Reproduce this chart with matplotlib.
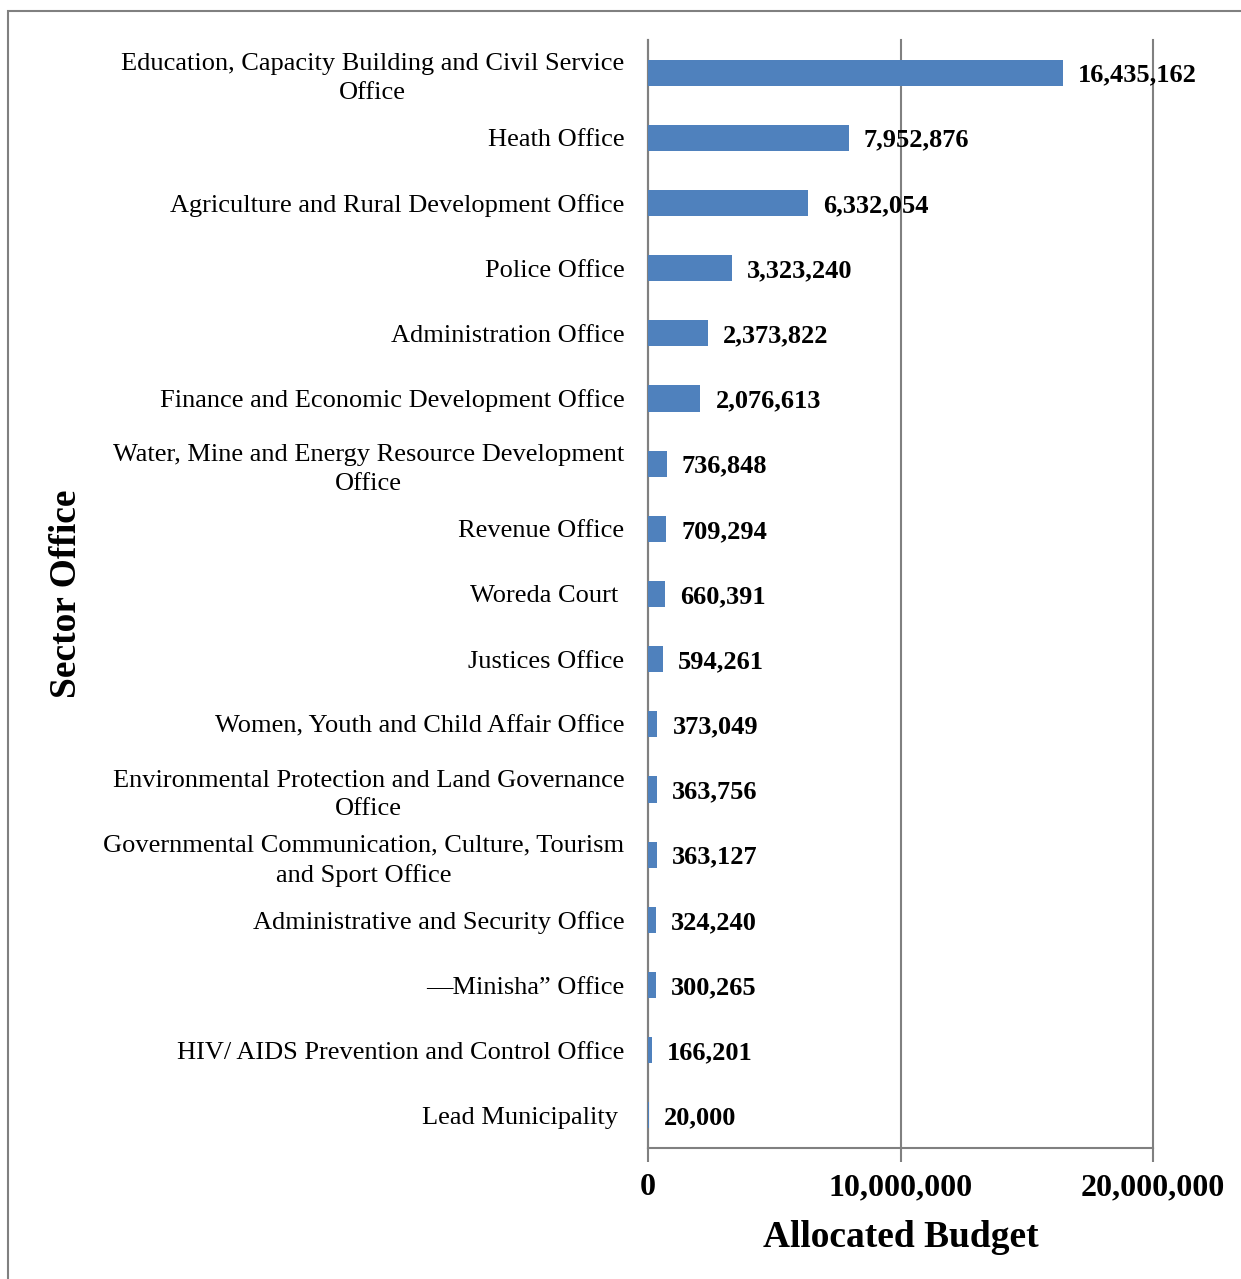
import matplotlib.pyplot as plt
from matplotlib.patches import Rectangle

offices = [
    'Education, Capacity Building and Civil Service\nOffice',
    'Heath Office',
    'Agriculture and Rural Development Office',
    'Police Office',
    'Administration Office',
    'Finance and Economic Development Office',
    'Water, Mine and Energy Resource Development\nOffice',
    'Revenue Office',
    'Woreda Court ',
    'Justices Office',
    'Women, Youth and Child Affair Office',
    'Environmental Protection and Land Governance\nOffice',
    'Governmental Communication, Culture, Tourism\nand Sport Office',
    'Administrative and Security Office',
    '\u2015Minisha\u201d Office',
    'HIV/ AIDS Prevention and Control Office',
    'Lead Municipality ',
]
budget = [16435162, 7952876, 6332054, 3323240, 2373822, 2076613, 736848, 709294,
          660391, 594261, 373049, 363756, 363127, 324240, 300265, 166201, 20000]
x_ticks = [0, 10000000, 20000000]

plt.rcParams['font.family'] = ['Liberation Serif', 'DejaVu Serif']

fig = plt.figure(figsize=(12.41, 12.79), dpi=100)
ax = fig.add_axes([648 / 1241, 1 - 1148 / 1279, 505 / 1241, 1108 / 1279])

# frame round the whole chart
fig.patches.append(Rectangle((8 / 1241, -0.01), 1.1, 1 - 11 / 1279 + 0.01,
                             transform=fig.transFigure, fill=False,
                             edgecolor='#808080', linewidth=1.5))

pos = list(range(len(offices)))
ax.barh(pos, budget, height=0.4, color='#4F81BD', zorder=3)
for p, v in zip(pos, budget):
    ax.text(v + 600000, p, f'{v:,}', va='center_baseline', ha='left',
            fontsize=19, fontweight='bold', zorder=4)

ax.set_xlim(0, 20000000)
ax.set_ylim(len(offices) - 0.5, -0.5)
ax.set_xticks(x_ticks)
ax.set_xticklabels([f'{t:,}' for t in x_ticks], fontsize=23, fontweight='bold')
ax.set_yticks(pos)
ax.set_yticklabels(offices, fontsize=19, multialignment='center', linespacing=1.38)
ax.tick_params(axis='y', length=0, pad=17)
ax.tick_params(axis='x', length=10, width=1.5, color='#808080', pad=8)
ax.grid(axis='x', color='#808080', linewidth=1.5, zorder=0)
for gl in ax.get_xgridlines():
    gl.set_clip_on(False)

for s in ['top', 'right']:
    ax.spines[s].set_visible(False)
for s in ['left', 'bottom']:
    ax.spines[s].set_color('#808080')
    ax.spines[s].set_linewidth(1.5)

ax.set_xlabel('Allocated Budget', fontsize=27, fontweight='bold', labelpad=13)
fig.text(66 / 1241, 1 - 594 / 1279, 'Sector Office', rotation=90, ha='center',
         va='center', fontsize=27, fontweight='bold')

fig.savefig('out.png', dpi=100)
